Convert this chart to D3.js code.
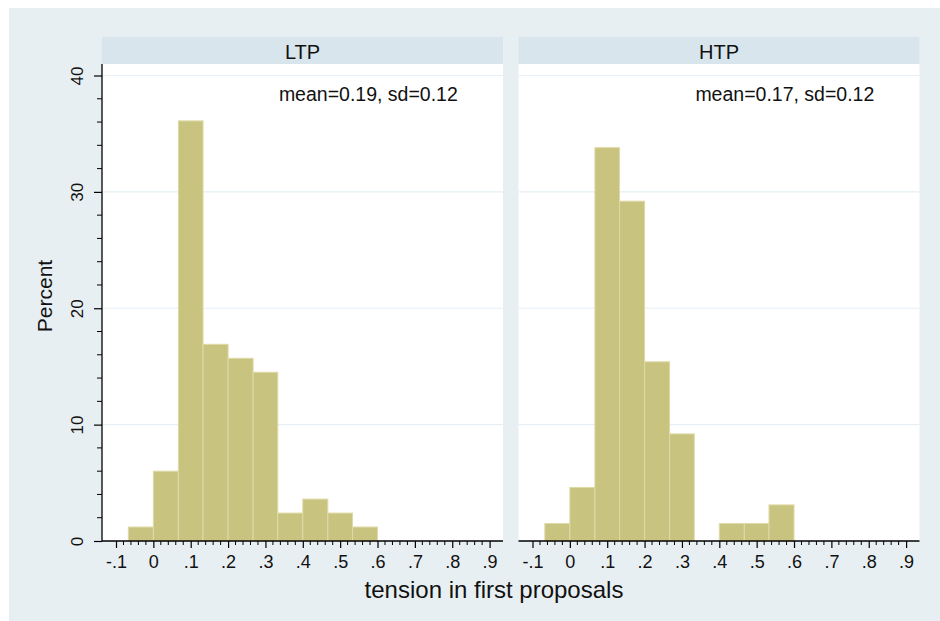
<!DOCTYPE html>
<html>
<head>
<meta charset="utf-8">
<script src="https://cdn.jsdelivr.net/npm/d3@7"></script>
<style>
  body { margin: 0; background: #fff; }
  svg { display: block; font-family: "Liberation Sans", Arial, sans-serif; }
</style>
</head>
<body>
<div id="chart"></div>
<script>
// histogram data (percent per bin)
var panels = ["LTP", "HTP"];
var panelNotes = ["mean=0.19, sd=0.12", "mean=0.17, sd=0.12"];
var binEdges = [-0.067, 0, 0.067, 0.133, 0.2, 0.267, 0.333, 0.4, 0.467, 0.533, 0.6];
var ltpPercent = [1.2, 6.0, 36.1, 16.9, 15.7, 14.5, 2.4, 3.6, 2.4, 1.2];
var htpPercent = [1.5, 4.6, 33.8, 29.2, 15.4, 9.2, 0, 1.5, 1.5, 3.1];
var xTicks = [-0.1, 0, 0.1, 0.2, 0.3, 0.4, 0.5, 0.6, 0.7, 0.8, 0.9];
var xTickLabels = ["-.1", "0", ".1", ".2", ".3", ".4", ".5", ".6", ".7", ".8", ".9"];
var yTicks = [0, 10, 20, 30, 40];
var xTitle = "tension in first proposals";
var yTitle = "Percent";

var W = 940, H = 621;
var panelLeft = [102, 518.5];
var panelW = 401;
var plotTop = 64, plotBottom = 541;
var stripTop = 37;

var svg = d3.select("#chart").append("svg")
  .attr("width", W)
  .attr("height", H);

// outer graph region
svg.append("rect")
  .attr("x", 9).attr("y", 8)
  .attr("width", W - 9).attr("height", H - 8)
  .attr("fill", "#e8eff2");

var x = d3.scaleLinear().domain([-0.1, 0.9]).range([14, 387.6]);
var y = d3.scaleLinear().domain([0, 40]).range([plotBottom, 75.5]);

var minorX = d3.range(-0.1, 0.9001, 0.02).filter(function(v) {
  return Math.abs(Math.round(v * 10) - v * 10) > 1e-6;
});
var minorY = d3.range(0, 40.001, 2).filter(function(v) { return v % 10 !== 0; });

var series = [ltpPercent, htpPercent];

panels.forEach(function(name, p) {
  var g = svg.append("g")
    .attr("transform", "translate(" + panelLeft[p] + ",0)");

  // header strip
  g.append("rect")
    .attr("x", 0).attr("y", stripTop)
    .attr("width", panelW).attr("height", plotTop - stripTop)
    .attr("fill", "#d9e5ec");
  g.append("text")
    .attr("x", panelW / 2)
    .attr("y", 58.5)
    .attr("text-anchor", "middle")
    .attr("font-size", "20px")
    .attr("fill", "#111")
    .text(name);

  // plot area
  g.append("rect")
    .attr("x", 0).attr("y", plotTop)
    .attr("width", panelW).attr("height", plotBottom - plotTop)
    .attr("fill", "#fff");

  g.selectAll("line.grid")
    .data(yTicks.filter(function(d) { return d > 0; }))
    .enter().append("line")
    .attr("class", "grid")
    .attr("x1", 0).attr("x2", panelW)
    .attr("y1", function(d) { return y(d); })
    .attr("y2", function(d) { return y(d); })
    .attr("stroke", "#e6eff3")
    .attr("stroke-width", 1.2);

  // bars
  var bins = series[p].map(function(v, i) {
    return { x0: binEdges[i], x1: binEdges[i + 1], v: v };
  }).filter(function(d) { return d.v > 0; });

  g.selectAll("rect.bar")
    .data(bins)
    .enter().append("rect")
    .attr("class", "bar")
    .attr("x", function(d) { return x(d.x0); })
    .attr("y", function(d) { return y(d.v); })
    .attr("width", function(d) { return x(d.x1) - x(d.x0); })
    .attr("height", function(d) { return y(0) - y(d.v); })
    .attr("fill", "#c9c380")
    .attr("stroke", "#dedaa6")
    .attr("stroke-width", 1);

  // note text
  g.append("text")
    .attr("x", x(0.336))
    .attr("y", y(37.8))
    .attr("font-size", "19.5px")
    .attr("fill", "#111")
    .text(panelNotes[p]);

  // x axis
  var xAxis = d3.axisBottom(x)
    .tickValues(xTicks)
    .tickFormat(function(d, i) { return xTickLabels[i]; })
    .tickSize(7)
    .tickPadding(7);
  var xg = g.append("g")
    .attr("transform", "translate(0," + plotBottom + ")")
    .call(xAxis);
  xg.select(".domain").remove();
  xg.selectAll(".tick line").attr("stroke", "#000").attr("stroke-width", 1.2);
  xg.selectAll(".tick text")
    .attr("font-size", "18px")
    .attr("font-family", "Liberation Sans, Arial, sans-serif")
    .attr("fill", "#111");
  xg.selectAll("line.minor")
    .data(minorX)
    .enter().append("line")
    .attr("class", "minor")
    .attr("x1", function(d) { return x(d); })
    .attr("x2", function(d) { return x(d); })
    .attr("y1", 0).attr("y2", 4)
    .attr("stroke", "#000");
  xg.append("line")
    .attr("x1", 0).attr("x2", panelW)
    .attr("y1", 0).attr("y2", 0)
    .attr("stroke", "#000")
    .attr("stroke-width", 1.3);
});

// y axis (left panel only)
var yg = svg.append("g")
  .attr("transform", "translate(" + panelLeft[0] + ",0)");
var yAxis = d3.axisLeft(y)
  .tickValues(yTicks)
  .tickSize(8)
  .tickFormat(d3.format("d"));
yg.call(yAxis);
yg.select(".domain").remove();
yg.selectAll(".tick line").attr("stroke", "#000").attr("stroke-width", 1.2);
yg.selectAll(".tick text")
  .attr("font-size", "17px")
  .attr("font-family", "Liberation Sans, Arial, sans-serif")
  .attr("fill", "#111")
  .attr("text-anchor", "middle")
  .attr("dy", null)
  .attr("x", null)
  .attr("transform", "translate(-19,0) rotate(-90)");
yg.selectAll("line.minor")
  .data(minorY)
  .enter().append("line")
  .attr("class", "minor")
  .attr("x1", -5).attr("x2", 0)
  .attr("y1", function(d) { return y(d); })
  .attr("y2", function(d) { return y(d); })
  .attr("stroke", "#000");
yg.append("line")
  .attr("x1", 0).attr("x2", 0)
  .attr("y1", plotTop).attr("y2", plotBottom)
  .attr("stroke", "#000")
  .attr("stroke-width", 1.3);

// axis titles
svg.append("text")
  .attr("x", 494)
  .attr("y", 598)
  .attr("text-anchor", "middle")
  .attr("font-size", "24px")
  .attr("fill", "#111")
  .text(xTitle);

svg.append("text")
  .attr("transform", "translate(52," + 296 + ") rotate(-90)")
  .attr("text-anchor", "middle")
  .attr("font-size", "21px")
  .attr("fill", "#111")
  .text(yTitle);
</script>
</body>
</html>
